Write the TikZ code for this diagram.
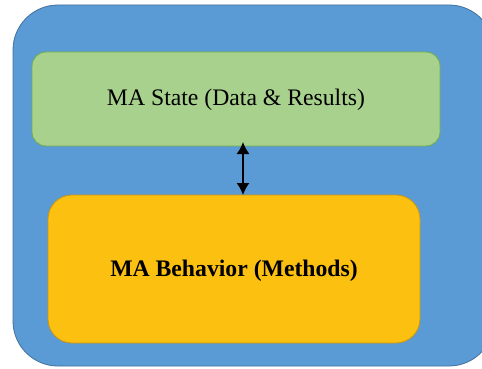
\documentclass[tikz,border=0pt]{standalone}
\usepackage{fontspec}
\setmainfont{Liberation Serif}
\usetikzlibrary{arrows.meta}
\definecolor{outerblue}{HTML}{5B9BD5}
\definecolor{outerline}{HTML}{41719C}
\definecolor{stategreen}{HTML}{A9D18E}
\definecolor{stateline}{HTML}{70AD47}
\definecolor{behavorange}{HTML}{FCC010}
\definecolor{behavline}{HTML}{C9960E}
\tikzset{
  statebox/.style={draw=stateline, fill=stategreen, rounded corners=14pt, line width=0.8pt},
  behavbox/.style={draw=behavline, fill=behavorange, rounded corners=24pt, line width=0.8pt},
}
\begin{document}
\begin{tikzpicture}[x=1pt,y=-1pt]
\useasboundingbox (0,0) rectangle (482,369);
\fill[white] (0,0) rectangle (482,369);
\draw [draw=outerline, fill=outerblue, rounded corners=45pt, line width=0.8pt]
  (13,5) rectangle (494,366);
\draw [statebox] (32,52) rectangle (440,146);
\node (state) at (236,100) {\fontsize{23.7}{28}\selectfont MA State (Data \& Results)};
\coordinate (statebot) at (243,146);
\draw [behavbox] (48,195) rectangle (420,343);
\node (behav) at (234,271) {\fontsize{23.7}{28}\selectfont\bfseries MA Behavior (Methods)};
\coordinate (behavtop) at (243,195);
\draw [{Latex[length=12pt,width=13pt]}-{Latex[length=12pt,width=13pt]}, line width=1.6pt]
  ([yshift=4pt]statebot) -- (behavtop);
\end{tikzpicture}
\end{document}
